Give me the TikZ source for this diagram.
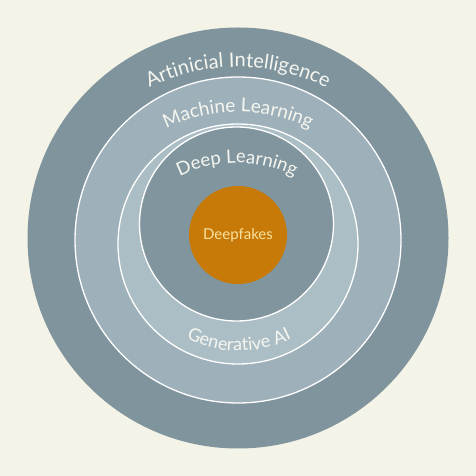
\documentclass[tikz,border=0pt]{standalone}
\usepackage{fontspec}
\setmainfont{Lato}
\usetikzlibrary{positioning,decorations.text}
\definecolor{BgCream}{RGB}{244,243,232}
\definecolor{RingOuter}{RGB}{127,148,157}
\definecolor{RingML}{RGB}{158,176,185}
\definecolor{RingGen}{RGB}{172,190,197}
\definecolor{CoreDL}{RGB}{128,149,158}
\definecolor{FakeOrange}{RGB}{200,122,8}
\definecolor{FakeText}{RGB}{247,226,160}
\definecolor{RingText}{RGB}{246,246,240}

\begin{document}
\begin{tikzpicture}[
    x=1pt,
    y=1pt,
    ring/.style={
        circle,
        inner sep=0pt,
        draw=white,
        line width=1.3pt
    },
    bandtext/.style={
        decorate,
        decoration={
            text along path,
            text align=center,
            text color=RingText,
            text={#1}
        }
    }
]

% background and rings
\fill[BgCream] (0,0) rectangle (476,476);
\node[circle, inner sep=0pt, fill=RingOuter, minimum size=421pt] (ai) at (238,238) {};
\node[ring, fill=RingML, minimum size=326pt] (ml) at (238,236) {};
\node[ring, fill=RingGen, minimum size=240pt] (gen) at (238,232) {};
\node[ring, fill=CoreDL, minimum size=194pt] (dl) at (236.5,252) {};
\node[circle, inner sep=0pt, fill=FakeOrange, minimum size=98pt,
      text=FakeText, font=\fontsize{15}{17}\selectfont] (fakes) at (238,241) {Deepfakes};

% centres of the label arcs
\coordinate (aiArc) at (238,210);
\coordinate (mlArc) at (238,199);
\coordinate (dlArc) at (237,183);
\coordinate (genArc) at (239,244);

% curved labels
\path[bandtext={|\fontsize{20}{24}\selectfont|Artinicial Intelligence}]
    (aiArc) ++(140:199pt) arc[start angle=140, end angle=40, radius=199pt];
\path[bandtext={|\fontsize{19}{23}\selectfont|Machine Learning}]
    (mlArc) ++(145:165pt) arc[start angle=145, end angle=35, radius=165pt];
\path[bandtext={|\fontsize{18.5}{22}\selectfont|Deep Learning}]
    (dlArc) ++(150:130pt) arc[start angle=150, end angle=30, radius=130pt];
\path[bandtext={|\fontsize{18}{22}\selectfont|Generative AI}]
    (genArc) ++(215:119pt) arc[start angle=215, end angle=325, radius=119pt];

\end{tikzpicture}
\end{document}
